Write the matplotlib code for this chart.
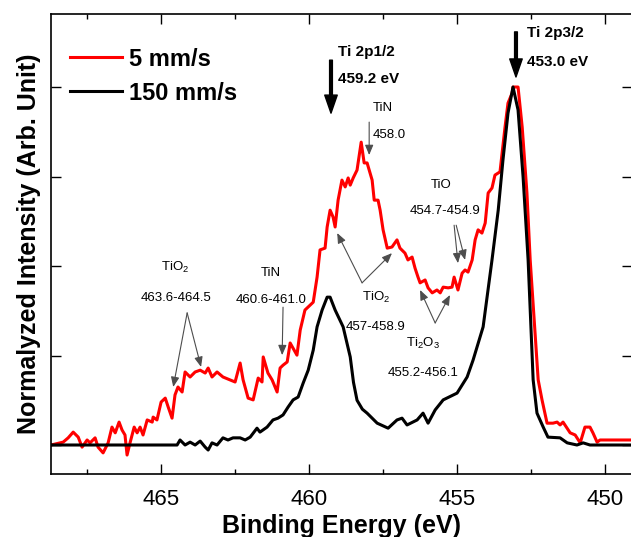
import matplotlib
matplotlib.use("Agg")
import matplotlib.pyplot as plt
from matplotlib.ticker import MultipleLocator, NullFormatter

plt.rcParams['font.family'] = ['Liberation Sans', 'DejaVu Sans']

# red spectrum, 5 mm/s (binding energy eV, normalized intensity)
energy_5 = [468.72, 468.31, 468.14, 467.97, 467.80, 467.67, 467.50, 467.40, 467.23, 467.13,
            466.96, 466.79, 466.66, 466.55, 466.42, 466.32, 466.22, 466.15, 466.05, 465.91,
            465.81, 465.71, 465.61, 465.47, 465.30, 465.27, 465.14, 465.00, 464.86, 464.76,
            464.63, 464.53, 464.43, 464.29, 464.19, 464.02, 463.85, 463.68, 463.51, 463.41,
            463.28, 463.11, 462.91, 462.67, 462.50, 462.33, 462.23, 462.06, 461.89, 461.72,
            461.59, 461.55, 461.39, 461.25, 461.08, 460.98, 460.88, 460.74, 460.64, 460.41,
            460.30, 460.14, 459.86, 459.73, 459.63, 459.46, 459.39, 459.29, 459.19, 459.12,
            459.02, 458.89, 458.78, 458.68, 458.61, 458.51, 458.38, 458.24, 458.14, 458.04,
            457.97, 457.87, 457.80, 457.67, 457.60, 457.50, 457.36, 457.20, 457.03, 456.93,
            456.76, 456.66, 456.52, 456.42, 456.32, 456.25, 456.08, 455.98, 455.84, 455.68,
            455.57, 455.47, 455.30, 455.17, 455.10, 454.97, 454.83, 454.73, 454.63, 454.49,
            454.39, 454.29, 454.16, 454.05, 453.95, 453.82, 453.72, 453.55, 453.38, 453.28,
            453.14, 453.11, 452.94, 452.80, 452.64, 452.53, 452.26, 452.13, 451.96, 451.76,
            451.62, 451.52, 451.42, 451.18, 451.01, 450.84, 450.68, 450.51, 450.41, 450.27,
            450.17, 449.05]
intensity_5 = [0.0, 0.008, 0.020, 0.036, 0.022, -0.006, 0.014, 0.006, 0.020, -0.006,
               -0.022, 0.006, 0.050, 0.034, 0.064, 0.042, 0.028, -0.028, 0.006, 0.050,
               0.034, 0.050, 0.028, 0.070, 0.064, 0.078, 0.070, 0.120, 0.131, 0.106,
               0.075, 0.140, 0.162, 0.148, 0.204, 0.190, 0.204, 0.209, 0.201, 0.215,
               0.190, 0.204, 0.190, 0.182, 0.176, 0.229, 0.182, 0.131, 0.126, 0.187,
               0.176, 0.246, 0.201, 0.182, 0.148, 0.215, 0.223, 0.232, 0.285, 0.251,
               0.321, 0.377, 0.399, 0.469, 0.545, 0.550, 0.609, 0.656, 0.637, 0.609,
               0.684, 0.740, 0.721, 0.746, 0.726, 0.746, 0.768, 0.846, 0.788, 0.788,
               0.768, 0.740, 0.684, 0.684, 0.656, 0.601, 0.550, 0.553, 0.573, 0.550,
               0.536, 0.517, 0.525, 0.494, 0.469, 0.453, 0.461, 0.439, 0.425, 0.433,
               0.425, 0.441, 0.439, 0.441, 0.469, 0.433, 0.480, 0.489, 0.483, 0.517,
               0.573, 0.601, 0.592, 0.620, 0.704, 0.718, 0.754, 0.763, 0.888, 0.955,
               0.983, 1.0, 1.0, 0.888, 0.704, 0.517, 0.182, 0.126, 0.061, 0.061,
               0.064, 0.056, 0.064, 0.034, 0.028, 0.006, 0.050, 0.050, 0.034, 0.008,
               0.014, 0.014]

# black spectrum, 150 mm/s
energy_150 = [468.72, 464.46, 464.36, 464.19, 464.02, 463.85, 463.68, 463.51, 463.41, 463.28,
              463.11, 462.91, 462.74, 462.57, 462.33, 462.16, 461.99, 461.76, 461.66, 461.42,
              461.22, 461.05, 460.88, 460.71, 460.54, 460.37, 460.20, 460.03, 459.86, 459.73,
              459.56, 459.39, 459.29, 459.12, 458.85, 458.61, 458.50, 458.38, 458.20, 458.04,
              457.70, 457.33, 457.03, 456.86, 456.69, 456.35, 456.15, 455.98, 455.74, 455.47,
              455.00, 454.66, 454.46, 454.12, 453.82, 453.61, 453.45, 453.28, 453.11, 452.94,
              452.77, 452.60, 452.43, 452.30, 452.09, 451.93, 451.52, 451.28, 450.95, 450.74,
              450.51, 450.17, 449.05]
intensity_150 = [0.0, 0.0, 0.014, 0.0, 0.008, 0.0, 0.011, -0.006, -0.014, 0.006,
                 0.0, 0.020, 0.014, 0.020, 0.020, 0.014, 0.022, 0.047, 0.036, 0.050,
                 0.070, 0.075, 0.084, 0.106, 0.126, 0.134, 0.173, 0.209, 0.265, 0.330,
                 0.377, 0.413, 0.413, 0.377, 0.330, 0.246, 0.175, 0.125, 0.100, 0.089,
                 0.061, 0.047, 0.070, 0.075, 0.056, 0.070, 0.089, 0.061, 0.098, 0.126,
                 0.145, 0.190, 0.237, 0.330, 0.517, 0.656, 0.796, 0.927, 1.0, 0.936,
                 0.749, 0.517, 0.182, 0.089, 0.050, 0.022, 0.020, 0.006, 0.0, 0.006,
                 0.0, 0.0, 0.0]

labels = ['5 mm/s', '150 mm/s']
xticks = [465, 460, 455, 450]

fig = plt.figure(figsize=(6.31, 5.37), dpi=100)
ax = fig.add_axes([51 / 631, 1 - 474 / 537, 581 / 631, 460 / 537])

ax.plot(energy_5, intensity_5, color='#ff0000', lw=2.2, label=labels[0])
ax.plot(energy_150, intensity_150, color='black', lw=2.2, label=labels[1])

ax.set_xlim(468.72, 449.09)
ax.set_ylim(-0.081, 1.204)
ax.set_xticks(xticks)
ax.xaxis.set_minor_locator(MultipleLocator(2.5))
ax.yaxis.set_major_locator(MultipleLocator(0.25))
ax.yaxis.set_major_formatter(NullFormatter())
ax.tick_params(which='both', direction='in', top=True, right=True, width=1)
ax.tick_params(which='major', length=7)
ax.tick_params(which='minor', length=3.5)
ax.tick_params(axis='x', labelsize=16, pad=11)
for s in ax.spines.values():
    s.set_linewidth(1.2)

ax.set_xlabel('Binding Energy (eV)', fontsize=18, fontweight='bold', labelpad=3)
ax.set_ylabel('Normalyzed Intensity (Arb. Unit)', fontsize=18, fontweight='bold', labelpad=4)

ax.legend(loc='upper left', bbox_to_anchor=(0.033, 0.927), frameon=False,
          prop={'size': 17, 'weight': 'bold'}, handlelength=2.2, handletextpad=0.3,
          labelspacing=0.47, borderpad=0, borderaxespad=0)

# main peaks
big = dict(width=2, headwidth=9, headlength=13, color='black', shrink=0)
ax.annotate('', xy=(459.26, 0.927), xytext=(459.26, 1.075), arrowprops=big)
ax.annotate('', xy=(453.01, 1.028), xytext=(453.01, 1.154), arrowprops=big)
ax.text(459.02, 1.098, 'Ti 2p1/2', fontsize=11, fontweight='bold', va='center')
ax.text(459.02, 1.022, '459.2 eV', fontsize=11, fontweight='bold', va='center')
ax.text(452.64, 1.151, 'Ti 2p3/2', fontsize=11, fontweight='bold', va='center')
ax.text(452.64, 1.070, '453.0 eV', fontsize=11, fontweight='bold', va='center')

# component labels
thin = dict(arrowstyle='-|>,head_length=0.6,head_width=0.25', color='0.3', lw=0.8,
            shrinkA=0, shrinkB=0)
small = dict(fontsize=9.5, ha='center', va='center')

ax.text(457.84, 0.941, 'TiN', fontsize=9.5, va='center')
ax.text(457.84, 0.866, '458.0', fontsize=9.5, va='center')
ax.annotate('', xy=(457.97, 0.810), xytext=(457.97, 0.902), arrowprops=thin)

ax.text(455.54, 0.726, 'TiO', **small)
ax.text(455.41, 0.654, '454.7-454.9', **small)
ax.annotate('', xy=(454.97, 0.508), xytext=(455.10, 0.614), arrowprops=thin)
ax.annotate('', xy=(454.73, 0.517), xytext=(455.03, 0.614), arrowprops=thin)

ax.text(464.53, 0.497, r'TiO$_\mathregular{2}$', **small)
ax.text(464.49, 0.411, '463.6-464.5', **small)
ax.annotate('', xy=(464.59, 0.162), xytext=(464.12, 0.369), arrowprops=thin)
ax.annotate('', xy=(463.65, 0.218), xytext=(464.12, 0.369), arrowprops=thin)

ax.text(461.28, 0.480, 'TiN', **small)
ax.text(461.28, 0.405, '460.6-461.0', **small)
ax.annotate('', xy=(460.91, 0.251), xytext=(460.88, 0.385), arrowprops=thin)

ax.text(457.74, 0.413, r'TiO$_\mathregular{2}$', **small)
ax.text(457.74, 0.330, '457-458.9', **small)
ax.annotate('', xy=(459.05, 0.592), xytext=(458.21, 0.453), arrowprops=thin)
ax.annotate('', xy=(457.20, 0.536), xytext=(458.21, 0.453), arrowprops=thin)

ax.text(456.15, 0.285, r'Ti$_\mathregular{2}$O$_\mathregular{3}$', **small)
ax.text(456.15, 0.201, '455.2-456.1', **small)
ax.annotate('', xy=(456.25, 0.433), xytext=(455.74, 0.341), arrowprops=thin)
ax.annotate('', xy=(455.24, 0.419), xytext=(455.74, 0.341), arrowprops=thin)

fig.savefig('out.png', dpi=100)
